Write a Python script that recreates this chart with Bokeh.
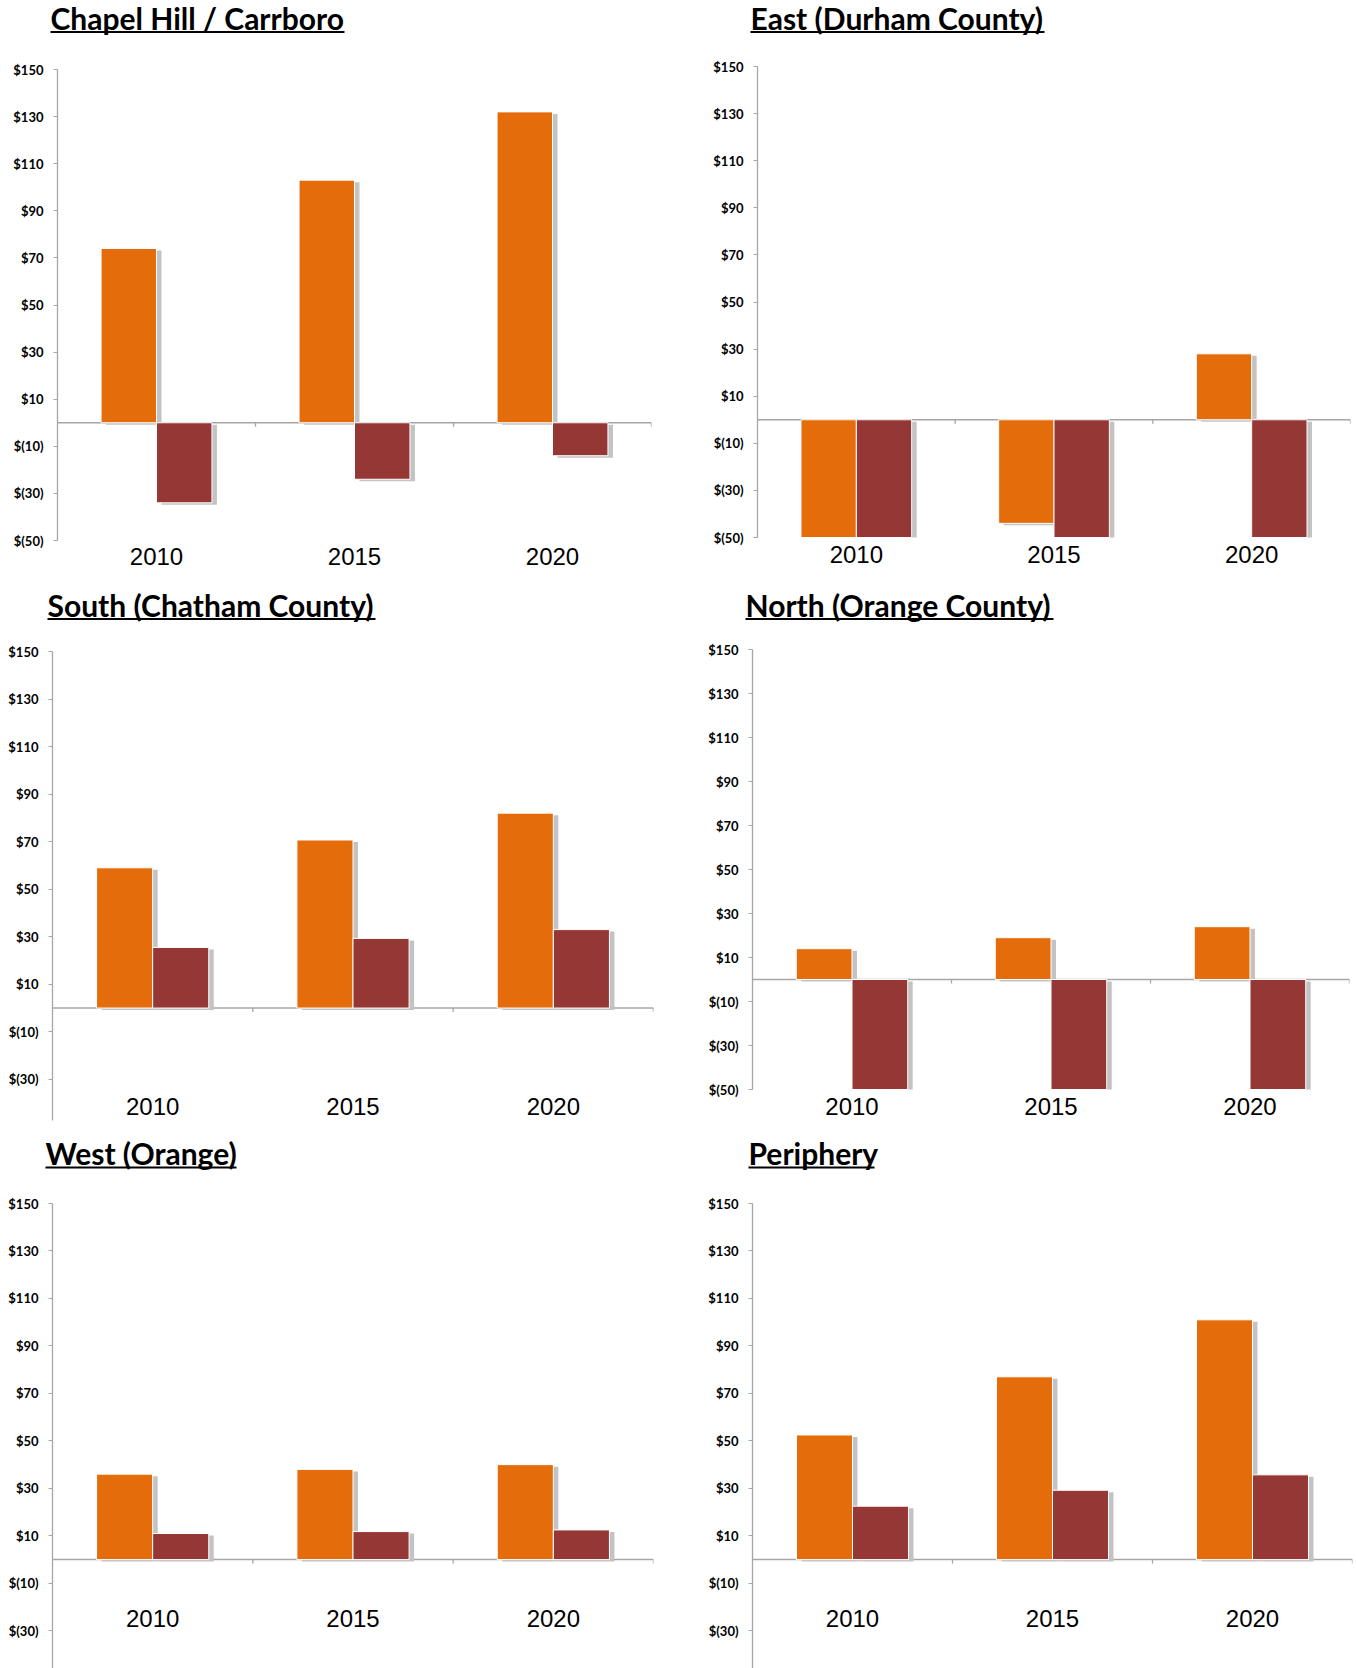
from bokeh.plotting import figure
from bokeh.models import FactorRange, Range1d, FixedTicker, Label, BoxAnnotation, Span, ColumnDataSource
from bokeh.transform import dodge
from bokeh.layouts import column, row
from bokeh.core.properties import value
from bokeh.embed import file_html
from bokeh.resources import INLINE

# ---------------- data ----------------
years = ["2010", "2015", "2020"]
tick_values = [-50, -30, -10, 10, 30, 50, 70, 90, 110, 130, 150]
tick_labels = ["$(50)", "$(30)", "$(10)", "$10", "$30", "$50", "$70", "$90", "$110", "$130", "$150"]

titles = ["Chapel Hill / Carrboro", "East (Durham County)", "South (Chatham County)",
          "North (Orange County)", "West (Orange)", "Periphery"]

# bars that run off the bottom of the axis are shown at the axis floor (-50)
chapel_orange = [74, 103, 132]
chapel_red = [-34, -24, -14]
east_orange = [-50, -44, 28]
east_red = [-50, -50, -50]
south_orange = [59, 70.7, 82]
south_red = [25.5, 29.3, 33]
north_orange = [14, 19, 24]
north_red = [-50, -50, -50]
west_orange = [36, 38, 40]
west_red = [11, 11.8, 12.5]
periphery_orange = [52.5, 77, 101]
periphery_red = [22.5, 29.2, 35.7]

# ---------------- style ----------------
ORANGE = "#E46C0A"
RED = "#953735"
AXIS_GRAY = "#A6A6A6"
SHADOW = "#C3C3C3"
TITLE_FONT = "Lato"
TICK_FONT = "Lato"
YEAR_FONT = "Liberation Sans"
Y_MAX = 150
Y_FLOOR = -50
COL_W = 678
BASELINE_FIX = 12  # px: lift the title so its baseline sits where intended


def make_title(title, h, title_x, title_base, title_size, ul_w):
    p = figure(width=COL_W, height=h, x_range=Range1d(0, COL_W), y_range=Range1d(0, h),
               output_backend="svg", toolbar_location=None, min_border=0,
               x_axis_location=None, y_axis_location=None)
    p.outline_line_color = None
    p.grid.visible = False
    p.add_layout(Label(x=title_x, y=h - title_base + BASELINE_FIX, text=title,
                       text_font=TITLE_FONT, text_font_style="bold",
                       text_font_size=f"{title_size}px", text_color="black",
                       text_baseline="alphabetic", text_align="left"))
    ul_c = h - (title_base + 2.5)
    p.add_layout(BoxAnnotation(left=title_x, right=title_x + ul_w,
                               top=ul_c + 1.1, bottom=ul_c - 1.1,
                               fill_color="black", fill_alpha=1, line_color=None))
    return p


def make_panel(orange, red, h, left, right, top, ppy, axis_min, label_px):
    w = COL_W
    frame_w = w - left - right
    ppx = frame_w / len(years)
    y_end = Y_MAX + top / ppy
    y_start = Y_MAX - (h - top) / ppy

    p = figure(width=w, height=h, x_range=FactorRange(factors=years),
               y_range=Range1d(y_start, y_end), output_backend="svg",
               toolbar_location=None, min_border_left=left, min_border_right=right,
               min_border_top=0, min_border_bottom=0, x_axis_location=None)
    p.outline_line_color = None
    p.grid.visible = False
    p.background_fill_color = "white"
    p.border_fill_color = "white"

    ax = p.yaxis[0]
    ax.bounds = (axis_min, Y_MAX)
    ax.ticker = FixedTicker(ticks=tick_values)
    ax.major_label_overrides = dict(zip(tick_values, tick_labels))
    ax.axis_line_color = AXIS_GRAY
    ax.axis_line_width = 1.3
    ax.major_tick_line_color = AXIS_GRAY
    ax.major_tick_out = 4
    ax.major_tick_in = 0
    ax.minor_tick_line_color = None
    ax.major_label_text_font = TICK_FONT
    ax.major_label_text_font_style = "bold"
    ax.major_label_text_font_size = "13px"
    ax.major_label_text_color = "black"
    ax.major_label_standoff = 10

    p.add_layout(Span(location=0, dimension="width", line_color=AXIS_GRAY,
                      line_width=1.5, level="underlay"))

    src = ColumnDataSource(dict(year=years, orange=orange, red=red))
    sdx = 5 / ppx
    sdy = 2 / ppy
    shadow = ColumnDataSource(dict(
        year=years,
        o_top=[max(v, 0) - sdy for v in orange],
        o_bot=[max(min(v, 0) - sdy, Y_FLOOR) for v in orange],
        r_top=[max(v, 0) - sdy for v in red],
        r_bot=[max(min(v, 0) - sdy, Y_FLOOR) for v in red],
        t0=[0] * len(years), t1=[-4 / ppy] * len(years)))

    p.segment(x0=dodge("year", 0.5, range=p.x_range), x1=dodge("year", 0.5, range=p.x_range),
              y0="t0", y1="t1", source=shadow, line_color=AXIS_GRAY, line_width=1.3)

    p.vbar(x=dodge("year", -0.14 + sdx, range=p.x_range), top="o_top", bottom="o_bot",
           width=0.28, source=shadow, fill_color=SHADOW, line_color=None)
    p.vbar(x=dodge("year", 0.14 + sdx, range=p.x_range), top="r_top", bottom="r_bot",
           width=0.28, source=shadow, fill_color=SHADOW, line_color=None)
    p.vbar(x=dodge("year", -0.14, range=p.x_range), top="orange", bottom=0, width=0.28,
           source=src, fill_color=ORANGE, line_color="white", line_width=1)
    p.vbar(x=dodge("year", 0.14, range=p.x_range), top="red", bottom=0, width=0.28,
           source=src, fill_color=RED, line_color="white", line_width=1)

    label_y = Y_MAX - (label_px - top) / ppy
    p.text(x="year", y=label_y, text="year", source=src, text_align="center",
           text_baseline="middle", text_font=value(YEAR_FONT), text_font_size="24px",
           text_color="black")
    return p


TS = 30  # title font size
t1 = make_title(titles[0], 45, 50, 29, TS, 294)
t2 = make_title(titles[1], 45, 72, 29, TS, 294)
t3 = make_title(titles[2], 45, 47, 36, TS, 328)
t4 = make_title(titles[3], 45, 67, 36, TS, 308)
t5 = make_title(titles[4], 50, 45, 42.5, TS, 191)
t6 = make_title(titles[5], 50, 70, 42.5, TS, 126)

p1 = make_panel(chapel_orange, chapel_red, 535, 57, 27, 24, 2.355, -50, 511)
p2 = make_panel(east_orange, east_red, 535, 79, 6, 21, 2.355, -50, 509)
p3 = make_panel(south_orange, south_red, 497, 52, 25, 26, 2.377, -47.3, 480.8)
p4 = make_panel(north_orange, north_red, 497, 74, 7, 24, 2.2, -50, 480.8)
p5 = make_panel(west_orange, west_red, 496, 52, 25, 31, 2.374, -60, 446)
p6 = make_panel(periphery_orange, periphery_red, 496, 74, 4, 31, 2.374, -60, 446)

layout = column(row(t1, t2), row(p1, p2), row(t3, t4), row(p3, p4), row(t5, t6), row(p5, p6))
open("out.html", "w").write(file_html(layout, INLINE))
